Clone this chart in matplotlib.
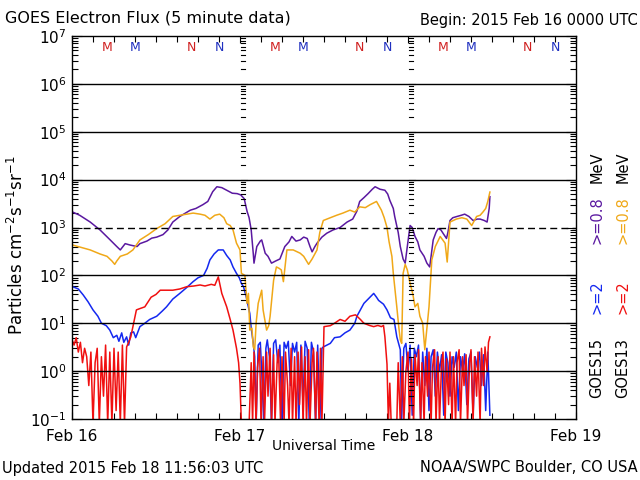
import numpy as np
import matplotlib
matplotlib.use('Agg')
import matplotlib.pyplot as plt
from matplotlib.ticker import FixedLocator, LogLocator, NullFormatter


# hours since 2015 Feb 16 00:00 UTC, flux in particles cm^-2 s^-1 sr^-1
g15_08_hours = [0.1, 1.1, 2.6, 4.0, 5.4, 6.4, 6.9, 7.6, 8.3, 9.3, 9.7, 10.7, 11.4, 12.1, 13.0, 13.7,
                14.4, 15.4, 16.9, 17.7, 18.7, 19.4, 20.1, 20.7, 21.4, 22.1, 22.9, 23.6, 24.1, 24.6,
                25.0, 25.3, 25.6, 25.9, 26.0, 26.4, 26.9, 27.1, 27.6, 28.0, 28.5, 29.1, 29.7, 30.4,
                31.0, 31.4, 32.0, 32.6, 33.1, 33.6, 34.0, 34.3, 34.7, 35.0, 35.7, 36.4, 37.3, 38.3,
                39.3, 40.1, 40.7, 41.1, 41.7, 42.3, 42.9, 43.3, 44.0, 44.7, 45.1, 45.4, 45.9, 46.1,
                46.6, 46.9, 47.3, 47.6, 47.9, 48.3, 48.6, 49.0, 49.4, 49.7, 50.3, 50.7, 51.1, 51.6,
                52.0, 52.3, 52.7, 53.0, 53.5, 53.7, 54.0, 54.4, 55.0, 55.6, 56.1, 56.7, 57.3, 57.9,
                58.3, 58.9, 59.3, 59.6, 59.7]
g15_08_flux = [2100, 1800, 1300, 890, 560, 400, 340, 460, 430, 400, 460, 520, 600, 630, 710, 890,
               1300, 1700, 2300, 2500, 3000, 3500, 5600, 7100, 6800, 6000, 5200, 5100, 4800, 4000,
               2200, 1600, 890, 280, 180, 400, 520, 550, 290, 250, 180, 200, 220, 400,
               500, 650, 520, 550, 630, 590, 400, 310, 400, 470, 630, 760, 890, 1000,
               1300, 1500, 2200, 3500, 4200, 5100, 6300, 7100, 6300, 6000, 5000, 3700, 2500, 1700,
               790, 400, 220, 180, 400, 1100, 1000, 650, 500, 340, 250, 180, 150, 550,
               790, 950, 890, 760, 590, 790, 1400, 1600, 1700, 1800, 1900, 1700, 1400, 1500,
               1500, 1400, 1300, 2500, 4400]

g13_08_hours = [0.1, 2.6, 4.0, 5.0, 5.7, 6.1, 6.4, 6.9, 7.9, 8.7, 9.7, 10.9, 12.1, 13.3, 14.4, 15.4,
                16.4, 17.3, 18.3, 19.0, 19.7, 20.4, 21.1, 21.7, 22.1, 22.6, 23.0, 23.5, 24.0, 24.2,
                24.7, 25.0, 25.2, 25.4, 25.7, 25.9, 26.1, 26.3, 26.6, 27.1, 27.3, 27.8, 28.1, 28.3,
                28.8, 29.2, 29.6, 29.9, 30.2, 30.7, 31.6, 32.6, 33.1, 33.8, 34.3, 35.0, 35.4, 35.9,
                36.9, 37.8, 38.7, 39.7, 40.4, 41.1, 41.9, 42.6, 43.5, 44.2, 44.6, 45.0, 45.3, 45.7,
                45.9, 46.4, 46.7, 46.9, 47.1, 47.3, 47.6, 47.9, 48.3, 48.7, 49.0, 49.4, 49.7, 50.1,
                50.4, 51.0, 51.4, 51.9, 52.6, 53.3, 53.6, 54.0, 54.9, 55.7, 56.4, 57.1, 57.8, 58.3,
                58.7, 59.1, 59.4, 59.7]
g13_08_flux = [430, 340, 280, 250, 200, 170, 200, 250, 280, 340, 550, 710, 950, 1200, 1700, 1800,
               1900, 2000, 1900, 1800, 1500, 1800, 1900, 1600, 1200, 1100, 890, 470, 340, 110,
               100, 26, 42, 7.2, 7.9, 3.2, 2.8, 10, 26, 49, 19, 7.2, 8.9, 14,
               79, 150, 140, 130, 74, 340, 340, 290, 250, 170, 220, 340, 790, 1400,
               1600, 1800, 2000, 2300, 2100, 2700, 2600, 3000, 3500, 2300, 1600, 1000, 500, 250,
               110, 22, 7.9, 4.5, 3.8, 110, 170, 130, 68, 40, 22, 26, 14, 10,
               2.8, 22, 210, 400, 650, 470, 190, 1300, 1500, 1600, 1500, 1100, 1700, 1800,
               2100, 2500, 3500, 5500]

g15_2_hours = [0.1, 0.9, 1.6, 2.3, 3.0, 3.7, 4.2, 4.9, 5.4, 5.9, 6.4, 6.7, 7.1, 7.4, 7.8, 8.1,
               8.4, 8.8, 9.1, 9.7, 10.4, 11.1, 12.1, 12.9, 13.5, 14.4, 15.4, 16.4, 17.3, 18.0,
               18.8, 19.3, 19.7, 20.3, 20.9, 21.6, 22.1, 22.6, 23.0, 23.5, 23.9, 24.2, 24.5, 24.9,
               25.2, 25.4, 25.6, 25.9,
               26.1, 26.3, 26.6, 26.9, 27.1, 27.4, 27.7, 27.9, 28.2, 28.5, 28.8, 29.1, 29.4, 29.7,
               30.0, 30.3, 30.6, 30.9, 31.2, 31.5, 31.8, 32.1, 32.4, 32.7, 33.0, 33.3, 33.6, 33.9,
               34.2, 34.5, 34.8, 35.1, 35.4, 35.7,
               35.9, 36.9, 37.5, 38.3, 39.0, 39.7, 40.4, 40.7, 41.7, 42.3, 43.1, 43.5, 43.8, 44.5,
               45.0, 45.5, 46.0, 46.4, 46.9,
               47.1, 47.4, 47.7, 48.0, 48.3, 48.6, 48.9, 49.2, 49.5, 49.8, 50.1, 50.4, 50.7, 51.0,
               51.3, 51.6, 51.9, 52.2, 52.5, 52.8, 53.1, 53.4, 53.7, 54.0, 54.3, 54.6, 54.9, 55.2,
               55.5, 55.8, 56.1, 56.4, 56.7, 57.0, 57.3, 57.6, 57.9, 58.2, 58.5, 58.8, 59.1, 59.4,
               59.7]
g15_2_flux = [58, 52, 39, 28, 19, 14, 10, 8.9, 7.2, 5.0, 5.6, 4.2, 6.3, 4.0, 5.2, 3.5,
              6.3, 6.6, 5.0, 8.5, 10, 12, 14, 18, 22, 32, 42, 56, 74, 89,
              100, 140, 210, 280, 340, 340, 260, 210, 150, 110, 89, 68, 58, 35,
              22, 16, 7.9, 3.8,
              2.0, 0.08, 3.5, 4.0, 1.0, 0.08, 3.0, 4.5, 2.0, 0.08, 3.8, 4.5, 1.5, 3.5,
              0.08, 4.0, 3.0, 4.2, 0.5, 3.8, 2.5, 4.0, 0.08, 3.5, 0.2, 4.2, 3.0, 0.08,
              4.0, 2.5, 0.08, 3.5, 0.08, 3.0,
              3.2, 3.8, 5.0, 5.2, 6.3, 7.2, 10, 14, 26, 32, 42, 35, 30, 25,
              19, 13, 12, 5.2, 2.8,
              0.1, 3.0, 3.8, 1.0, 3.5, 0.12, 3.0, 2.0, 3.5, 0.1, 2.5, 0.5, 3.0, 0.15,
              2.0, 2.8, 0.3, 2.5, 1.0, 2.2, 0.12, 2.5, 1.5, 0.3, 2.0, 1.2, 2.5, 0.15,
              2.0, 1.0, 2.3, 0.2, 1.8, 2.5, 0.12, 2.0, 1.2, 2.5, 0.5, 2.2, 0.15, 2.5,
              0.12]

g13_2_hours = [0.0, 0.3, 0.6, 0.9, 1.2, 1.5, 1.8, 2.1, 2.4, 2.7, 3.0, 3.3, 3.6, 3.9, 4.2, 4.5,
               4.8, 5.1, 5.4, 5.7, 6.0, 6.3, 6.6, 6.9, 7.2, 7.5, 7.8, 8.1, 8.4,
               9.2, 9.6, 10.4, 11.3, 12.0, 12.6, 13.5, 14.4, 15.4, 16.4, 17.4, 18.3, 19.0, 19.9,
               20.4, 20.9, 21.4, 22.1, 22.6, 23.0, 23.5, 23.8, 24.0, 24.2, 24.5, 25.0, 25.3,
               25.6, 25.8, 26.0, 26.3, 26.5, 26.8, 27.0, 27.3, 27.5, 27.8, 28.0, 28.3, 28.5, 28.8,
               29.0, 29.3, 29.5, 29.8, 30.0, 30.3, 30.5, 30.8, 31.0, 31.3, 31.5, 31.8, 32.0, 32.3,
               32.5, 32.8, 33.0, 33.3, 33.5, 33.8, 34.0, 34.3, 34.5, 34.8, 35.0, 35.3, 35.5, 35.7,
               36.0, 36.9, 37.5, 38.3, 39.0, 39.7, 40.5, 41.2, 41.7, 42.5, 43.1, 43.7, 44.2, 44.5,
               44.7, 45.0, 45.2, 45.4, 45.6, 46.4,
               46.6, 46.9, 47.2, 47.4, 47.7, 48.0, 48.2, 48.5, 48.8, 49.0, 49.3, 49.5, 49.8, 50.0,
               50.3, 50.5, 50.8, 51.0, 51.3, 51.5, 51.8, 52.0, 52.3, 52.5, 52.8, 53.0, 53.3, 53.5,
               53.8, 54.0, 54.3, 54.5, 54.8, 55.0, 55.3, 55.5, 55.8, 56.0, 56.3, 56.5, 56.8, 57.0,
               57.3, 57.5, 57.8, 58.0, 58.3, 58.5, 58.8, 59.0, 59.3, 59.5, 59.7]
g13_2_flux = [4.5, 3.5, 5.0, 2.5, 4.0, 1.5, 3.0, 2.0, 0.5, 2.5, 0.08, 1.5, 3.0, 0.08, 2.0, 0.3,
              3.5, 0.08, 2.5, 0.08, 3.0, 0.15, 2.5, 0.08, 3.5, 0.08, 3.2, 4.0, 5.2,
              19, 20, 22, 35, 40, 49, 49, 49, 52, 58, 60, 63, 60, 65,
              62, 93, 42, 22, 12, 7.2, 3.0, 1.5, 0.56, 0.08, 0.08, 0.08, 0.08,
              1.5, 0.08, 2.5, 0.08, 1.2, 3.0, 0.08, 2.0, 0.08, 2.5, 0.3, 3.0, 0.08, 2.2,
              0.08, 1.5, 2.8, 0.08, 2.0, 0.08, 2.5, 0.5, 0.08, 3.0, 0.08, 2.0, 0.08, 2.5,
              0.2, 3.2, 0.08, 2.0, 0.08, 2.8, 0.08, 1.5, 3.0, 0.08, 2.5, 0.08, 3.0, 0.08,
              8.5, 8.9, 10, 12, 11, 14, 15, 12, 10, 9, 8.5, 9, 8.5, 9,
              5.2, 1.4, 0.08, 0.56, 0.08, 0.08,
              1.5, 0.08, 2.0, 0.08, 1.0, 2.5, 0.08, 1.8, 0.08, 2.2, 0.5, 2.8, 0.08, 1.5,
              0.08, 2.0, 0.3, 2.5, 0.08, 1.2, 2.8, 0.08, 2.0, 0.08, 1.5, 2.5, 0.08, 1.8,
              0.2, 2.5, 0.08, 2.0, 0.08, 1.5, 2.8, 0.08, 2.0, 0.5, 2.2, 0.08, 1.5, 2.8,
              0.08, 2.0, 0.3, 2.5, 0.08, 3.0, 0.5, 3.2, 1.0, 4.0, 5.2]

day_labels = ['Feb 16', 'Feb 17', 'Feb 18', 'Feb 19']
# local midnight (M) / noon (N) marks, hours into each day
g13_marks = [(5, 'M'), (17, 'N')]
g15_marks = [(9, 'M'), (21, 'N')]

c_g15_2 = '#1428f0'
c_g13_2 = '#f01010'
c_g15_08 = '#5a18a0'
c_g13_08 = '#f0a818'

fig = plt.figure(figsize=(6.4, 4.8), dpi=100)
ax = fig.add_axes([72 / 640, 1 - 419 / 480, 504 / 640, 383 / 480])

ax.plot(g15_2_hours, g15_2_flux, color=c_g15_2, lw=1.1)
ax.plot(g13_2_hours, g13_2_flux, color=c_g13_2, lw=1.1)
ax.plot(g15_08_hours, g15_08_flux, color=c_g15_08, lw=1.1)
ax.plot(g13_08_hours, g13_08_flux, color=c_g13_08, lw=1.1)

ax.set_yscale('log')
ax.set_ylim(1e-1, 1e7)
ax.set_xlim(0, 72)

# decade lines, 10^3 dashed
for d in [1, 10, 100, 1e4, 1e5, 1e6]:
    ax.axhline(d, color='black', lw=1)
ax.axhline(1e3, color='black', lw=1, dashes=(5, 3))

# log tick columns at the day boundaries
for day in [24, 48]:
    for k in range(-1, 7):
        for m in range(1, 10):
            ln = 0.9 if m == 1 else 0.6
            ax.plot([day + 0.15, day + 0.15 + ln], [m * 10.0 ** k] * 2, color='black', lw=0.8)

ax.xaxis.set_major_locator(FixedLocator([0, 24, 48, 72]))
ax.xaxis.set_minor_locator(FixedLocator(np.arange(0, 73, 3)))
ax.set_xticklabels(day_labels)
ax.yaxis.set_major_locator(LogLocator(base=10, numticks=20))
ax.yaxis.set_minor_locator(LogLocator(base=10, subs=np.arange(2, 10), numticks=20))
ax.yaxis.set_minor_formatter(NullFormatter())
ax.tick_params(which='both', direction='in', top=True, right=True, labelsize=11, width=0.8)
ax.tick_params(axis='x', which='major', length=5, pad=7)
ax.tick_params(axis='x', which='minor', length=4)
ax.tick_params(axis='y', which='major', length=7, pad=4)
ax.tick_params(axis='y', which='minor', length=4)
for s in ax.spines.values():
    s.set_linewidth(1)

for day in [0, 24, 48]:
    for h, t in g13_marks:
        ax.text(day + h, 0.97, t, color='#d02020', fontsize=9, ha='center', va='center',
                transform=ax.get_xaxis_transform())
    for h, t in g15_marks:
        ax.text(day + h, 0.97, t, color='#2030c0', fontsize=9, ha='center', va='center',
                transform=ax.get_xaxis_transform())


def px(x, y):
    return x / 640, 1 - y / 480


fig.text(*px(5, 18), 'GOES Electron Flux (5 minute data)', fontsize=11.5, va='center')
fig.text(*px(638, 21), 'Begin: 2015 Feb 16 0000 UTC', fontsize=10.5, va='center', ha='right')
fig.text(*px(324, 446), 'Universal Time', fontsize=10, va='center', ha='center')
fig.text(*px(2, 468), 'Updated 2015 Feb 18 11:56:03 UTC', fontsize=10.5, va='center')
fig.text(*px(638, 468), 'NOAA/SWPC Boulder, CO USA', fontsize=10.5, va='center', ha='right')
fig.text(*px(17, 245), r'Particles cm$^{-2}$s$^{-1}$sr$^{-1}$', fontsize=12,
         va='center', ha='center', rotation=90)

for xc, sat, c2, c08 in [(597, 'GOES15', c_g15_2, c_g15_08), (623, 'GOES13', c_g13_2, c_g13_08)]:
    fig.text(*px(xc, 368), sat, fontsize=10.5, rotation=90, va='center', ha='center')
    fig.text(*px(xc, 297), '>=2', color=c2, fontsize=10.5, rotation=90, va='center', ha='center')
    fig.text(*px(xc, 220), '>=0.8', color=c08, fontsize=10.5, rotation=90, va='center', ha='center')
    fig.text(*px(xc, 167), 'MeV', fontsize=10.5, rotation=90, va='center', ha='center')

fig.savefig('out.png', dpi=100)
